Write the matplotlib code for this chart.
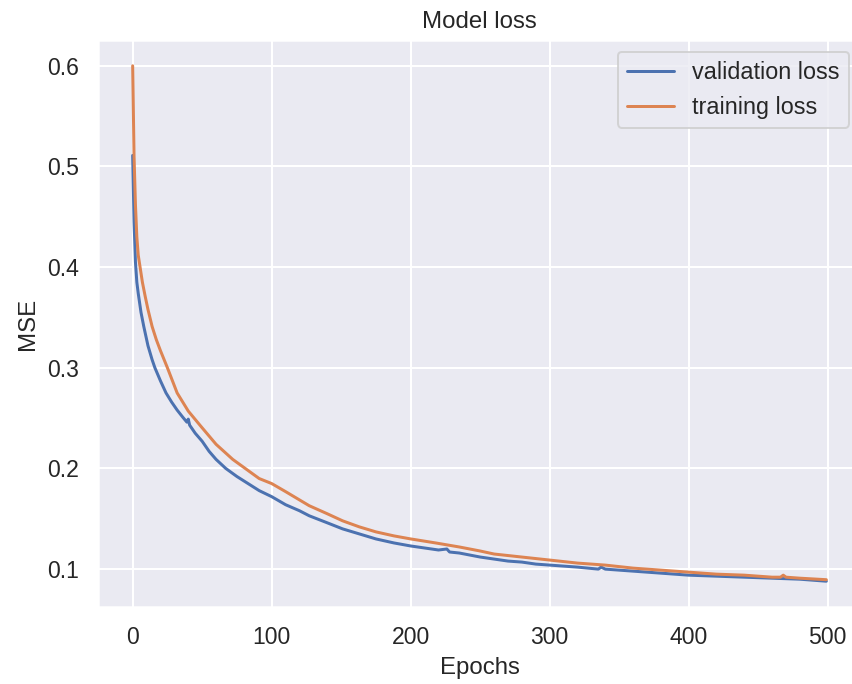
import matplotlib
matplotlib.use("Agg")
import matplotlib.pyplot as plt
import seaborn as sns

# loss values (epoch, value)
val_epochs = [0, 1, 2, 3, 4, 6, 8, 11, 14, 16, 20, 24, 28, 32, 36, 39, 40, 41, 45, 50,
              55, 60, 67, 75, 83, 91, 100, 110, 120, 127, 140, 151, 163, 175, 188,
              200, 210, 220, 226, 228, 235, 250, 260, 270, 280, 290, 300, 320, 335,
              337, 340, 360, 380, 400, 420, 440, 460, 480, 499]
val_loss = [0.511, 0.445, 0.405, 0.385, 0.374, 0.355, 0.341, 0.322, 0.308, 0.300,
            0.287, 0.275, 0.266, 0.258, 0.251, 0.246, 0.249, 0.243, 0.235, 0.227,
            0.217, 0.209, 0.200, 0.192, 0.185, 0.178, 0.172, 0.164, 0.158, 0.153,
            0.146, 0.140, 0.135, 0.130, 0.126, 0.123, 0.121, 0.119, 0.120, 0.117,
            0.116, 0.112, 0.110, 0.108, 0.107, 0.105, 0.104, 0.102, 0.100, 0.102,
            0.100, 0.098, 0.096, 0.094, 0.093, 0.092, 0.091, 0.090, 0.088]

train_epochs = [0, 1, 2, 3, 4, 5, 7, 9, 11, 14, 17, 20, 25, 32, 40, 49, 60, 72, 81,
                91, 100, 110, 127, 140, 151, 163, 175, 188, 200, 218, 235, 250, 260,
                280, 300, 320, 340, 360, 380, 400, 420, 440, 460, 466, 468, 470, 480, 499]
train_loss = [0.600, 0.510, 0.462, 0.430, 0.412, 0.403, 0.385, 0.371, 0.358, 0.341,
              0.328, 0.317, 0.300, 0.275, 0.257, 0.242, 0.224, 0.209, 0.200,
              0.190, 0.185, 0.177, 0.163, 0.155, 0.148, 0.142, 0.137, 0.133, 0.130,
              0.126, 0.122, 0.118, 0.115, 0.112, 0.109, 0.106, 0.104, 0.101, 0.099,
              0.097, 0.095, 0.094, 0.092, 0.092, 0.094, 0.092, 0.091, 0.0895]

sns.set_theme(style="darkgrid", context="notebook")
plt.rcParams['font.family'] = ['Liberation Sans', 'DejaVu Sans']
plt.rcParams['xtick.labelsize'] = 11.5
plt.rcParams['ytick.labelsize'] = 11.5

fig, ax = plt.subplots(figsize=(852 / 144, 684 / 144), dpi=144)
# the reference crops the right edge of the axes slightly
fig.subplots_adjust(left=0.115, right=1.0106, top=0.9415, bottom=0.1126)

ax.plot(val_epochs, val_loss, label='validation loss')
ax.plot(train_epochs, train_loss, label='training loss')

ax.set_title('Model loss')
ax.set_xlabel('Epochs')
ax.set_ylabel('MSE')
ax.legend(loc='upper right', fontsize=11.7)

fig.savefig('out.png', dpi=144)
